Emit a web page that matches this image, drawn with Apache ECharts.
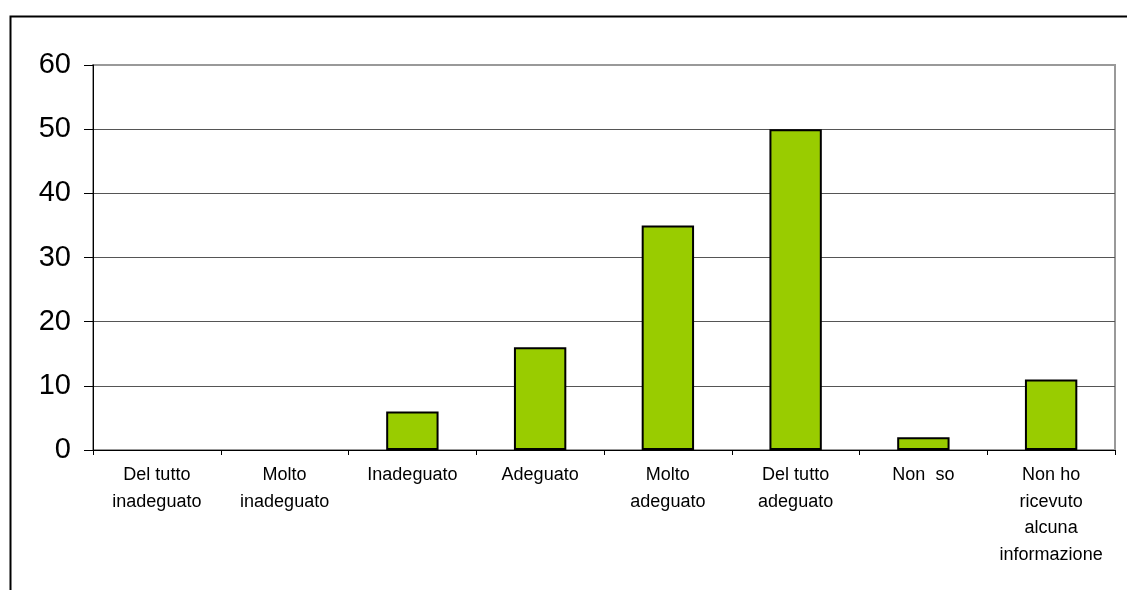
<!DOCTYPE html>
<html><head><meta charset="utf-8">
<script src="https://cdn.jsdelivr.net/npm/echarts@6/dist/echarts.min.js"></script>
<style>html,body{margin:0;padding:0;background:#fff}#c{width:1127px;height:590px}</style>
</head><body><div id="c"></div>
<script>
const categories = ["Del tutto\ninadeguato","Molto\ninadeguato","Inadeguato","Adeguato","Molto\nadeguato","Del tutto\nadeguato","Non  so","Non ho\nricevuto\nalcuna\ninformazione"];
const values = [0, 0, 6, 16, 35, 50, 2, 11];
const yTicks = [0, 10, 20, 30, 40, 50, 60];

const chart = echarts.init(document.getElementById('c'), null, {renderer:'canvas'});
chart.setOption({
  animation:false,
  backgroundColor:'#fff',
  graphic:[{type:'rect', left:8, top:14, shape:{width:1200,height:700}, style:{fill:'none',stroke:'#000',lineWidth:2}, z:-1}],
  grid:{left:93, top:65, right:12, bottom:140, show:true, borderColor:'#999', borderWidth:2, backgroundColor:'transparent'},
  xAxis:{type:'category', data:categories,
    axisLine:{lineStyle:{color:'#000',width:1}},
    axisTick:{show:true, length:5, lineStyle:{color:'#000'}},
    axisLabel:{interval:0, color:'#000', fontFamily:'Liberation Sans, Arial', fontSize:18, lineHeight:26.5, margin:12}
  },
  yAxis:{type:'value', min:yTicks[0], max:yTicks[yTicks.length-1], interval:10,
    axisLine:{show:true, lineStyle:{color:'#000',width:1}},
    axisTick:{show:true, length:9, lineStyle:{color:'#000'}},
    axisLabel:{color:'#000', fontFamily:'Liberation Sans, Arial', fontSize:29, margin:22},
    splitLine:{showMaxLine:false, lineStyle:{color:'#555', width:1}}
  },
  series:[{type:'bar', barWidth:'41%',
    data: values.map(v => v === 0 ? {value:v, itemStyle:{borderWidth:0}} : v),
    itemStyle:{color:'#99CC00', borderColor:'#000', borderWidth:2}}]
});
</script></body></html>
